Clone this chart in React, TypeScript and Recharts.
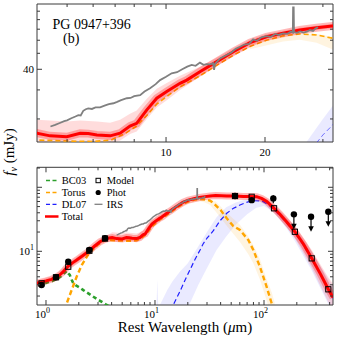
import React from 'react';
import { ComposedChart, Line, Area, Scatter, XAxis, YAxis, ReferenceArea, ErrorBar } from 'recharts';

type P = [number, number];
type B = [number, number, number];

// ---- data (rest wavelength in micron, flux density in mJy) ----
const totalFlux: P[] = [
  [0.82, 3.15], [0.9, 3.3], [1.0, 3.45], [1.12, 3.65], [1.235, 3.93], [1.34, 4.3], [1.441, 4.8], [1.52, 5.35],
  [1.602, 5.89], [1.75, 6.6], [1.913, 7.31], [2.2, 8.7], [2.5, 10.2], [2.8, 12.1], [3.13, 14.1], [3.48, 15.4],
  [3.8, 16.1], [4.05, 16.4], [4.44, 15.8], [4.99, 15.6], [5.48, 16.4], [5.8, 16.3], [6.16, 16.0], [6.76, 15.8],
  [7.25, 16.4], [7.77, 18.1], [8.14, 18.8], [8.74, 22.7], [9.37, 26.7], [10.05, 29.3], [11.03, 32.9], [11.56, 34.4],
  [12.68, 38.7], [14.26, 44.5], [16.02, 51.1], [18.0, 58.0], [20.2, 63.0], [22.7, 66.1], [25.5, 69.2], [28.7, 71.5],
  [32.0, 73.2], [36.0, 74.5], [45.5, 73.1], [54.2, 73.1], [64.6, 71.8], [75.0, 71.5], [85.7, 71.3], [95.0, 67.0],
  [106, 60.0], [123.6, 47.0], [140, 38.0], [161, 29.0], [192, 20.2], [230, 13.0], [274, 7.76], [330, 4.4],
  [389, 2.55], [430, 1.9],
];
const totalBand: B[] = [
  [0.82, 2.9, 3.5], [1.0, 3.1, 3.8], [1.235, 3.55, 4.35], [1.602, 5.3, 6.5], [2.0, 7.0, 8.6], [2.5, 9.2, 11.3],
  [3.13, 12.8, 15.5], [3.48, 14.0, 16.9], [4.05, 14.0, 19.8], [4.99, 14.2, 19.3], [5.48, 14.8, 19.6],
  [6.16, 14.5, 19.3], [6.76, 14.2, 19.0], [7.25, 14.8, 19.8], [7.77, 16.2, 21.5], [8.14, 16.8, 22.5],
  [8.74, 20.0, 26.5], [9.37, 23.5, 30.5], [10.05, 26.0, 33.0], [11.03, 30.0, 36.5], [12.68, 36.0, 41.5],
  [14.26, 42.0, 47.0], [16.02, 48.5, 53.5], [18.0, 55.5, 60.5], [20.2, 60.5, 65.5], [25.5, 67.0, 71.5],
  [32.0, 71.0, 75.5], [45.5, 70, 77], [64.6, 68, 75.5], [85.7, 67, 75], [106, 54, 66], [123.6, 41, 53],
  [161, 24, 34], [192, 16, 25], [274, 5.5, 10.5], [389, 1.6, 3.9], [430, 1.2, 3.1],
];
const torusFlux: P[] = [
  [1.5, 1.2], [1.55, 1.54], [1.72, 2.48], [1.91, 4.0], [2.13, 6.1], [2.5, 9.5], [3.0, 12.8], [3.48, 15.0],
  [4.05, 14.9], [5.0, 14.7], [6.0, 14.6], [6.8, 14.9], [7.5, 16.3], [8.1, 18.0], [8.74, 21.0], [9.37, 24.6],
  [10.05, 27.3], [11.0, 31.2], [12.68, 36.5], [14.26, 42.3], [16.0, 48.6], [18.0, 55.0], [20.2, 60.0],
  [22.7, 63.8], [25.5, 65.5], [28.7, 64.6], [32.0, 61.8], [34.3, 57.0], [40.0, 44.0], [45.5, 32.8], [52.0, 25.0],
  [60.2, 21.5], [71.8, 15.0], [79.8, 10.5], [91.9, 5.7], [105.6, 2.8], [117.6, 1.54], [125, 1.0],
];
const torusBand: B[] = [
  [18.0, 53.0, 57.0], [22.7, 59.0, 64.5], [25.5, 60.5, 66.5], [28.7, 58.0, 65.5], [32.0, 53.0, 63.0],
  [36.0, 42.0, 60.0], [45.5, 25.0, 40.0], [60.2, 14.0, 26.0], [71.8, 9.0, 17.0], [79.8, 6.5, 12.5],
  [91.9, 3.6, 7.5], [105.6, 1.7, 3.7], [117.6, 1.0, 2.3], [125, 0.8, 1.6],
];
const bc03Flux: P[] = [
  [0.85, 2.97], [0.95, 3.1], [1.05, 3.3], [1.15, 3.45], [1.235, 3.65], [1.3, 3.8], [1.4, 4.2], [1.48, 4.6],
  [1.55, 4.9], [1.6, 4.5], [1.65, 4.3], [1.72, 3.6], [1.78, 3.16], [1.9, 2.9], [2.05, 2.7], [2.2, 2.48],
  [2.35, 2.3], [2.5, 2.15], [2.72, 1.95], [3.0, 1.75], [3.36, 1.57], [3.6, 1.45], [4.0, 1.3],
];
const dl07Flux: P[] = [
  [13.5, 1.2], [14.7, 1.45], [16.9, 2.34], [18.8, 3.5], [20.9, 5.1], [23.2, 7.4], [25.9, 10.5], [27.6, 13.0],
  [30.0, 16.0], [34.3, 21.0], [39.5, 30.0], [45.5, 39.3], [52.0, 46.5], [60.2, 52.9], [70.0, 58.5], [79.8, 61.6],
  [90.0, 61.5], [98.5, 59.6], [110, 53.0], [123.6, 45.0], [140, 36.0], [161, 28.0], [192, 19.5], [230, 12.5],
  [274, 7.5], [330, 4.3], [389, 2.5], [430, 1.85],
];
const dl07Band: B[] = [
  [10.0, 0.5, 0.9], [10.3, 0.5, 1.2], [10.5, 0.5, 3.6], [10.7, 0.5, 1.4], [11.2, 0.5, 1.5], [12.0, 0.5, 1.9],
  [13.0, 0.5, 2.5], [14.5, 0.5, 3.4], [16.9, 0.8, 4.8], [20.0, 1.3, 6.5], [25.0, 3.0, 12.0], [30.0, 5.5, 20.0],
  [36.7, 10.5, 34.0], [45.0, 17.0, 49.0], [55.0, 26.0, 58.0], [70.0, 38.0, 65.0], [85.0, 48.0, 69.0],
  [100, 51.0, 67.0], [123.6, 40.0, 53.0], [161, 23.0, 33.0], [192, 14.5, 23.5], [274, 5.0, 9.8],
  [389, 1.5, 3.7], [430, 1.1, 2.9],
];
const irsFlux: P[] = [
  [4.45, 18.0], [4.6, 18.4], [4.75, 18.9], [4.9, 19.4], [5.0, 19.6], [5.15, 20.2], [5.3, 20.7], [5.41, 21.1],
  [5.5, 21.0], [5.6, 22.4], [5.7, 22.9], [5.8, 23.2], [5.95, 23.0], [6.1, 23.5], [6.3, 23.5], [6.5, 24.1],
  [6.7, 24.6], [6.92, 24.9], [7.1, 25.4], [7.3, 26.0], [7.6, 26.7], [7.8, 26.8], [8.0, 27.5], [8.34, 27.9],
  [8.6, 29.3], [8.94, 30.7], [9.3, 32.5], [9.59, 34.4], [10.0, 36.0], [10.4, 37.8], [10.8, 38.4], [11.2, 40.0],
  [11.6, 41.5], [11.97, 42.5], [12.3, 42.0], [12.68, 43.9], [13.0, 42.6], [13.3, 43.0], [13.6, 42.8],
  [13.9, 43.5], [14.0, 39.7], [14.1, 43.2], [14.6, 46.5], [15.3, 48.8], [15.8, 50.6], [16.3, 53.2], [16.8, 54.8],
  [17.3, 56.5], [17.9, 57.0], [18.4, 60.8], [18.9, 59.6], [19.5, 62.5], [20.2, 63.6], [20.8, 62.8], [21.5, 65.5],
  [22.0, 64.6], [22.7, 66.1], [23.4, 65.6], [24.0, 67.8], [24.3, 66.8], [24.35, 95], [24.45, 95], [24.5, 67.2],
  [25.0, 66.5], [25.6, 67.9], [26.2, 66.7], [26.8, 67.6], [27.4, 69.2], [28.0, 68.3], [28.5, 70.8], [29.0, 71.9],
];
const photLambda = [0.91, 1.235, 1.6, 2.5, 3.48, 54.2, 77.1, 121.7];
const photFlux = [2.97, 3.93, 6.88, 10.5, 16.0, 73, 63, 67];
const photErrLow = [0, 0, 0, 0, 0, 0, 0, 10.5];
const photErrHigh = [0, 0, 0, 0, 0, 0, 0, 8.3];
const limitLambda = [188, 270, 389];
const limitFlux = [37.8, 34.7, 41.6];
const modelLambda = [0.91, 1.235, 1.6, 2.5, 3.48, 54.2, 77.1, 123.6, 192, 274, 389];
const modelFlux = [3.16, 3.93, 5.74, 10.2, 15.8, 73, 71, 47, 20.2, 7.76, 2.55];

const topXTicks = [5, 6, 7, 8, 9, 10, 20, 30];
const topXMajor = [10, 20];
const topYTicks = [20, 30, 40, 50, 60, 70, 80, 90];
const topYMajor = [40];
const botXTicks = [1, 2, 3, 4, 5, 6, 7, 8, 9, 10, 20, 30, 40, 50, 60, 70, 80, 90, 100, 200, 300, 400];
const botXMajor = [1, 10, 100];
const botYTicks = [2, 3, 4, 5, 6, 7, 8, 9, 10, 20, 30, 40, 50, 60, 70, 80, 90, 100, 200];
const botYMajor = [10];

// ---- table built from the arrays ----
function buildTable() {
  const rows = new Map<number, Record<string, any>>();
  const get = (x: number) => {
    let r = rows.get(x);
    if (!r) { r = { x }; rows.set(x, r); }
    return r;
  };
  const addLine = (key: string, pts: P[]) => pts.forEach(([x, y]) => { get(x)[key] = y; });
  const addBand = (key: string, pts: B[]) => pts.forEach(([x, lo, hi]) => { get(x)[key] = [lo, hi]; });
  addLine('total', totalFlux);
  addBand('totalBand', totalBand);
  addLine('torus', torusFlux);
  addBand('torusBand', torusBand);
  addLine('bc03', bc03Flux);
  addLine('dl07', dl07Flux);
  addBand('dl07Band', dl07Band);
  addLine('irs', irsFlux);
  return Array.from(rows.values()).sort((a, b) => a.x - b.x);
}
const table = buildTable();
const photData = photLambda.map((x, i) => ({ x, f: photFlux[i], err: [photErrLow[i], photErrHigh[i]] }));
const limitData = limitLambda.map((x, i) => ({ x, f: limitFlux[i] }));
const modelData = modelLambda.map((x, i) => ({ x, f: modelFlux[i] }));

// ---- styles ----
const FONT = "'Liberation Serif', 'Times New Roman', 'DejaVu Serif', serif";
const RED = '#ff0000';
const GRAY = '#808080';
const ORANGE = '#ffa500';
const GREEN = '#2ca02c';
const BLUE = '#1f1fff';
const FRAME = '#3a3a3a';
const W = 337;
const PLOT_W = 296;
const TOP_H = 138;
const BOT_H = 137.7;

const sup = (base: string, exp: string) => (
  <>
    {base}
    <tspan dy={-5} fontSize={8}>{exp}</tspan>
  </>
);

const makeXTick = (plotH: number, majors: number[], label: (v: number) => React.ReactNode, anchorShift: number, dyLabel: number) =>
  (props: any) => {
    const { x, y, payload } = props;
    const v = payload.value;
    const major = majors.includes(v);
    const len = major ? 5 : 3;
    return (
      <g>
        <line x1={x} y1={y} x2={x} y2={y - len} stroke={FRAME} strokeWidth={1} />
        <line x1={x} y1={y - plotH} x2={x} y2={y - plotH + len} stroke={FRAME} strokeWidth={1} />
        {major && (
          <text x={x + anchorShift} y={y + dyLabel} textAnchor={anchorShift ? 'end' : 'middle'} fontSize={11}
            style={{ fontFamily: FONT }} fill="#000">
            {label(v)}
          </text>
        )}
      </g>
    );
  };

const makeYTick = (majors: number[], labels: number[], label: (v: number) => React.ReactNode) =>
  (props: any) => {
    const { x, y, payload } = props;
    const v = payload.value;
    const major = majors.includes(v) || v === 100;
    const len = major ? 5 : 3;
    return (
      <g>
        <line x1={x} y1={y} x2={x + len} y2={y} stroke={FRAME} strokeWidth={1} />
        <line x1={x + PLOT_W} y1={y} x2={x + PLOT_W - len} y2={y} stroke={FRAME} strokeWidth={1} />
        {labels.includes(v) && (
          <text x={x - 3} y={y + 4} textAnchor="end" fontSize={11} style={{ fontFamily: FONT }} fill="#000">
            {label(v)}
          </text>
        )}
      </g>
    );
  };

const TopXTick = makeXTick(TOP_H, topXMajor, (v) => String(v), 0, 14);
const TopYTick = makeYTick(topYMajor, topYMajor, (v) => String(v));
const BotXTick = makeXTick(BOT_H, botXMajor, (v) => sup('10', String(Math.round(Math.log10(v)))), 4, 13);
const BotYTick = makeYTick(botYMajor, botYMajor, (v) => sup('10', String(Math.round(Math.log10(v)))));

const PhotDot = (p: any) => <circle cx={p.cx} cy={p.cy} r={3.2} fill="#000" />;
const ModelSquare = (p: any) => (
  <rect x={p.cx - 2.6} y={p.cy - 2.6} width={5.2} height={5.2} fill="none" stroke="#000" strokeWidth={1} />
);
const LimitShape = (p: any) => {
  const { cx, cy } = p;
  return (
    <g>
      <circle cx={cx} cy={cy} r={3.2} fill="#000" />
      <line x1={cx} y1={cy} x2={cx} y2={cy + 11} stroke="#000" strokeWidth={1.2} />
      <path d={`M${cx - 2.8},${cy + 9.5} L${cx},${cy + 15} L${cx + 2.8},${cy + 9.5} Z`} fill="#000" />
    </g>
  );
};

const TOP_X_DOMAIN: [number, number] = [4.05, 32.2];
const TOP_Y_DOMAIN: [number, number] = [14.5, 99.5];
const BOT_X_DOMAIN: [number, number] = [0.827, 429.5];
const BOT_Y_DOMAIN: [number, number] = [1.449, 205.3];

function bands() {
  return [
    <Area key="dlb" dataKey="dl07Band" stroke="none" fill="#6a6aff" fillOpacity={0.14} connectNulls isAnimationActive={false} />,
    <Area key="tob" dataKey="torusBand" stroke="none" fill={ORANGE} fillOpacity={0.12} connectNulls isAnimationActive={false} />,
    <Area key="ttb" dataKey="totalBand" stroke="none" fill="#ff3030" fillOpacity={0.17} connectNulls isAnimationActive={false} />,
  ];
}

export default function App() {
  return (
    <div style={{ position: 'absolute', left: 0, top: 0, width: W, height: 339, background: '#fff' }}>
      <div style={{ position: 'absolute', left: 0, top: 0 }}>
        <ComposedChart width={W} height={160} data={table} margin={{ top: 4, right: 4, bottom: 0, left: 0 }}>
          <XAxis dataKey="x" type="number" scale="log" domain={TOP_X_DOMAIN} allowDataOverflow ticks={topXTicks}
            interval={0} height={18} tickSize={0} tickMargin={0} tickLine={false} axisLine={false} tick={<TopXTick />} />
          <YAxis type="number" scale="log" domain={TOP_Y_DOMAIN} allowDataOverflow ticks={topYTicks}
            interval={0} width={37} tickSize={0} tickMargin={0} tickLine={false} axisLine={false} tick={<TopYTick />} />
          {bands()}
          <Line dataKey="dl07" stroke={BLUE} strokeWidth={1} strokeDasharray="5 3" strokeOpacity={0.6} dot={false} connectNulls isAnimationActive={false} />
          <Line dataKey="torus" stroke={ORANGE} strokeWidth={1.6} strokeDasharray="5 3" dot={false} connectNulls isAnimationActive={false} />
          <Line dataKey="total" stroke="rgba(255,0,0,0.28)" strokeWidth={8} dot={false} connectNulls isAnimationActive={false} />
          <Line dataKey="total" stroke={RED} strokeWidth={3} dot={false} connectNulls isAnimationActive={false} />
          <Line dataKey="irs" stroke={GRAY} strokeWidth={1.8} dot={false} connectNulls isAnimationActive={false} />
          <ReferenceArea x1={TOP_X_DOMAIN[0]} x2={TOP_X_DOMAIN[1]} y1={TOP_Y_DOMAIN[0]} y2={TOP_Y_DOMAIN[1]}
            fill="none" fillOpacity={0} stroke={FRAME} strokeWidth={1} ifOverflow="visible" />
        </ComposedChart>
      </div>
      <div style={{ position: 'absolute', left: 0, top: 160 }}>
        <ComposedChart width={W} height={179} data={table} margin={{ top: 7.3, right: 4, bottom: 0, left: 0 }}>
          <XAxis dataKey="x" type="number" scale="log" domain={BOT_X_DOMAIN} allowDataOverflow ticks={botXTicks}
            interval={0} height={34} tickSize={0} tickMargin={0} tickLine={false} axisLine={false} tick={<BotXTick />} />
          <YAxis type="number" scale="log" domain={BOT_Y_DOMAIN} allowDataOverflow ticks={botYTicks}
            interval={0} width={37} tickSize={0} tickMargin={0} tickLine={false} axisLine={false} tick={<BotYTick />} />
          {bands()}
          <Line dataKey="bc03" stroke={GREEN} strokeWidth={2.6} strokeDasharray="4 3" dot={false} connectNulls isAnimationActive={false} />
          <Line dataKey="dl07" stroke={BLUE} strokeWidth={1.2} strokeDasharray="5 3" dot={false} connectNulls isAnimationActive={false} />
          <Line dataKey="torus" stroke={ORANGE} strokeWidth={2.4} strokeDasharray="5 3" dot={false} connectNulls isAnimationActive={false} />
          <Line dataKey="total" stroke="rgba(255,0,0,0.28)" strokeWidth={7} dot={false} connectNulls isAnimationActive={false} />
          <Line dataKey="total" stroke={RED} strokeWidth={3} dot={false} connectNulls isAnimationActive={false} />
          <Line dataKey="irs" stroke={GRAY} strokeWidth={1.5} dot={false} connectNulls isAnimationActive={false} />
          <Scatter data={modelData} dataKey="f" shape={<ModelSquare />} isAnimationActive={false} />
          <Scatter data={photData} dataKey="f" shape={<PhotDot />} isAnimationActive={false}>
            <ErrorBar dataKey="err" direction="y" width={0} stroke="#000" strokeWidth={1.2} />
          </Scatter>
          <Scatter data={limitData} dataKey="f" shape={<LimitShape />} isAnimationActive={false} />
          <ReferenceArea x1={BOT_X_DOMAIN[0]} x2={BOT_X_DOMAIN[1]} y1={BOT_Y_DOMAIN[0]} y2={BOT_Y_DOMAIN[1]}
            fill="none" fillOpacity={0} stroke={FRAME} strokeWidth={1} ifOverflow="visible" />
        </ComposedChart>
      </div>
      <svg width={W} height={339} style={{ position: 'absolute', left: 0, top: 0, pointerEvents: 'none', fontFamily: FONT }}>
        <text x={52.5} y={29} fontSize={14}>PG 0947+396</text>
        <text x={63} y={43} fontSize={14}>(b)</text>
        <text x={14} y={152} fontSize={15} textAnchor="middle" transform="rotate(-90 14 152)">
          <tspan fontStyle="italic">f</tspan>
          <tspan fontStyle="italic" fontSize={10} dy={3}>ν</tspan>
          <tspan dy={-3}> (mJy)</tspan>
        </text>
        <text x={185} y={332} fontSize={15} textAnchor="middle">
          Rest Wavelength (<tspan fontStyle="italic">μ</tspan>m)
        </text>
        {/* legend */}
        <g fontSize={10.5}>
          <line x1={46} y1={180.5} x2={58.5} y2={180.5} stroke={GREEN} strokeWidth={1.3} strokeDasharray="4 2.5" />
          <text x={61.7} y={184}>BC03</text>
          <line x1={46} y1={192.5} x2={58.5} y2={192.5} stroke={ORANGE} strokeWidth={1.3} strokeDasharray="4 2.5" />
          <text x={61.7} y={196}>Torus</text>
          <line x1={46} y1={204.3} x2={58.5} y2={204.3} stroke={BLUE} strokeWidth={1.3} strokeDasharray="4 2.5" />
          <text x={61.7} y={208}>DL07</text>
          <line x1={45} y1={216.5} x2={58.5} y2={216.5} stroke={RED} strokeWidth={2.5} />
          <text x={61.7} y={220}>Total</text>
          <rect x={96} y={178.3} width={4.4} height={4.4} fill="none" stroke="#000" strokeWidth={1} />
          <text x={106.7} y={184}>Model</text>
          <circle cx={98.2} cy={192.5} r={2.6} fill="#000" />
          <text x={106.7} y={196}>Phot</text>
          <line x1={94.5} y1={204.3} x2={102.5} y2={204.3} stroke={GRAY} strokeWidth={1.3} />
          <text x={106.7} y={208}>IRS</text>
        </g>
      </svg>
    </div>
  );
}
